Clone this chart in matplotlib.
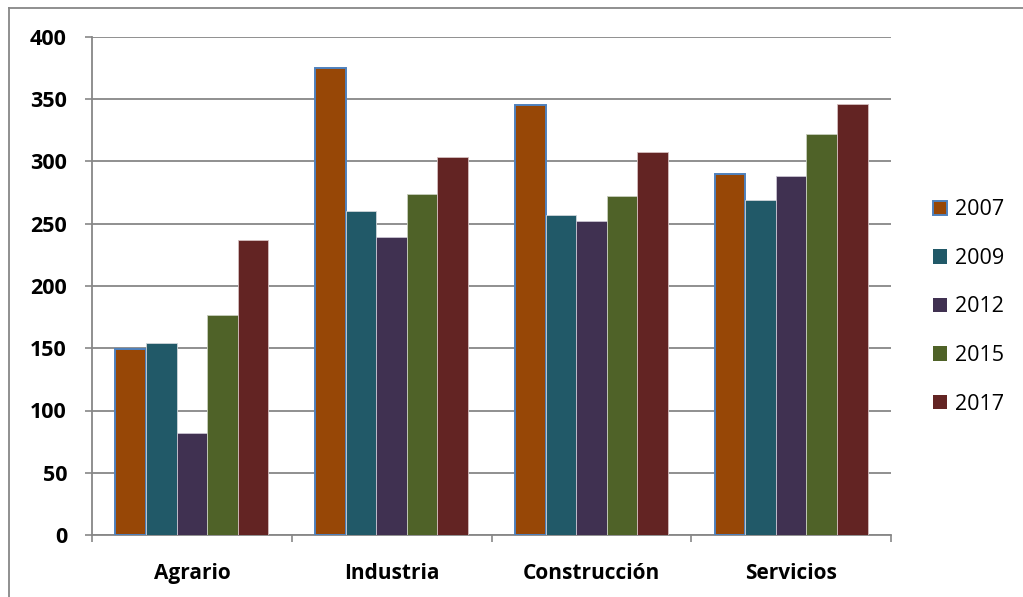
import matplotlib
matplotlib.use("Agg")
import matplotlib.pyplot as plt
from matplotlib.lines import Line2D
from matplotlib.patches import Patch
import numpy as np

plt.rcParams["font.family"] = ["Open Sans", "DejaVu Sans"]

SECTORS = ["Agrario", "Industria", "Construcción", "Servicios"]
YEARS = ["2007", "2009", "2012", "2015", "2017"]
V2007 = [149, 375, 345, 290]
V2009 = [154, 260, 257, 269]
V2012 = [82, 239, 252, 288]
V2015 = [177, 274, 272, 322]
V2017 = [237, 304, 308, 346]
SERIES = [V2007, V2009, V2012, V2015, V2017]
COLORS = ["#974706", "#215968", "#403151", "#4f6228", "#632423"]
EDGES = ["#4f81bd", "#cfd6da", "#c9c4d2", "#c8cfbd", "#d5bfbf"]
GRID = "#878787"

fig = plt.figure(figsize=(10.23, 5.97), dpi=100)
fig.patch.set_facecolor("white")

# outer chart frame (top and left edges only visible)
fig.add_artist(Line2D([8.5 / 1023, 8.5 / 1023], [0, 1 - 7.5 / 597],
                      color=GRID, lw=1.3, transform=fig.transFigure))
fig.add_artist(Line2D([8.5 / 1023, 1], [1 - 7.5 / 597, 1 - 7.5 / 597],
                      color=GRID, lw=1.3, transform=fig.transFigure))

ax = fig.add_axes([92 / 1023, 62 / 597, 799 / 1023, 498 / 597])
x = np.arange(len(SECTORS))
w = 0.153
for k, (vals, c, e) in enumerate(zip(SERIES, COLORS, EDGES)):
    lw = 1.4 if k == 0 else 0.6
    ax.bar(x + (k - 2) * w, vals, width=w, color=c, edgecolor=e,
           linewidth=lw, label=YEARS[k], zorder=3)

ax.set_xlim(-0.5, len(SECTORS) - 0.5)
ax.set_ylim(0, 400)
ax.set_yticks(np.arange(0, 401, 50))
ax.yaxis.grid(True, color=GRID, lw=1.3, zorder=0)
ax.set_axisbelow(True)
for s in ("top", "right"):
    ax.spines[s].set_visible(False)
for s in ("left", "bottom"):
    ax.spines[s].set_color(GRID)
    ax.spines[s].set_linewidth(1.3)

ax.tick_params(axis="y", length=5, width=1.2, color=GRID, pad=13,
               labelsize=15.5)
for t in ax.get_yticklabels():
    t.set_fontweight("bold")

ax.set_xticks(x)
ax.set_xticklabels(SECTORS, fontsize=15, fontweight="bold")
ax.tick_params(axis="x", which="major", length=0, pad=20)
ax.set_xticks(np.arange(-0.5, len(SECTORS), 1.0), minor=True)
ax.tick_params(axis="x", which="minor", length=5, width=1.2, color=GRID)

handles = [Patch(facecolor=c, edgecolor=(e if i == 0 else c),
                 linewidth=(1.4 if i == 0 else 0))
           for i, (c, e) in enumerate(zip(COLORS, EDGES))]
fig.legend(handles, YEARS, loc="center left",
           bbox_to_anchor=(933 / 1023, 1 - 307 / 597), frameon=False,
           fontsize=15.5, handlelength=0.65, handleheight=0.65,
           handletextpad=0.35, labelspacing=1.28, borderpad=0,
           borderaxespad=0)

fig.savefig("out.png", dpi=100)
